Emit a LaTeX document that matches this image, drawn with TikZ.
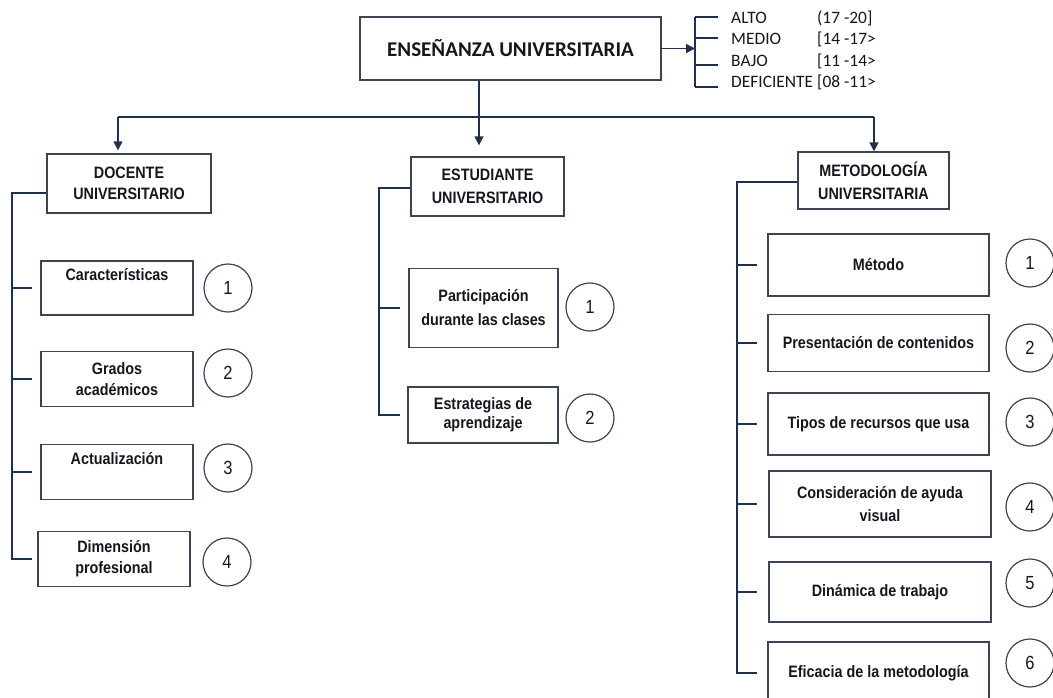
\documentclass[tikz,border=0pt]{standalone}
\usepackage{fontspec}
\setmainfont{Liberation Sans}[FakeStretch=0.87]
\newfontfamily\calib{Carlito}
\usetikzlibrary{arrows.meta}
\definecolor{lncol}{RGB}{30,48,78}
\definecolor{bxcol}{RGB}{58,68,84}
\definecolor{txcol}{RGB}{22,22,32}
\begin{document}
\begin{tikzpicture}[x=1pt,y=-1pt,
  box/.style={draw=bxcol, line width=1.4pt, fill=white, inner sep=0pt, align=center,
    text=txcol, font=\fontsize{16.5}{21}\selectfont\bfseries},
  numc/.style={circle, draw=bxcol, line width=1.2pt, minimum size=48, inner sep=0pt,
    text=txcol, font=\fontsize{19}{22}\selectfont},
  tree/.style={draw=lncol, line width=1.5pt},
  arr/.style={draw=lncol, line width=1.5pt, -{Triangle[length=9pt,width=9pt]}},
  leg/.style={anchor=west, inner sep=0pt, text=txcol, font=\calib\fontsize{17.4}{20}\selectfont}
]
\useasboundingbox (0,0) rectangle (1053,697);
\clip (0,0) rectangle (1053,697);

% main node
\node[box, minimum width=301, minimum height=63, font=\calib\fontsize{21}{24}\selectfont\bfseries]
  (main) at (510.5,48.5) {ENSEÑANZA UNIVERSITARIA};

% legend
\coordinate (bt) at (695,17);
\coordinate (bb) at (695,87);
\coordinate (b2) at (695,38);
\coordinate (b3) at (695,65);
\coordinate (e1) at (718,17);
\coordinate (e2) at (718,38);
\coordinate (e3) at (718,65);
\coordinate (e4) at (718,87);
\node[leg] (l1) at (731,18) {ALTO};
\node[leg] (l2) at (731,39) {MEDIO};
\node[leg] (l3) at (731,61) {BAJO};
\node[leg] (l4) at (731,82) {DEFICIENTE};
\node[leg] (r1) at (817,18) {(17 -20]};
\node[leg] (r2) at (817,39) {[14 -17>};
\node[leg] (r3) at (817,61) {[11 -14>};
\node[leg] (r4) at (817,82) {[08 -11>};
\draw[arr] (main.east) -- (main.east -| bt);
\draw[tree] (bt) -- (bb);
\draw[tree] (bt) -- (e1);
\draw[tree] (b2) -- (e2);
\draw[tree] (b3) -- (e3);
\draw[tree] (bb) -- (e4);

% level 1 nodes
\node[box, minimum width=164, minimum height=59] (doc) at (129,183.5) {DOCENTE\\UNIVERSITARIO};
\node[box, minimum width=153, minimum height=59, font=\fontsize{16.5}{23}\selectfont\bfseries] (est) at (487.5,186.5) {ESTUDIANTE\\UNIVERSITARIO};
\node[box, minimum width=151, minimum height=57, font=\fontsize{16.5}{23}\selectfont\bfseries] (met) at (873.5,180.5) {METODOLOGÍA\\UNIVERSITARIA};

% main connectors
\coordinate (hl) at (118,117);
\coordinate (hr) at (874,117);
\draw[arr, shorten >=11pt] ([xshift=-31.5]main.south) -- ([xshift=-8.5]est.north);
\draw[tree] (hl) -- (hr);
\draw[arr, shorten >=3pt] (hl) -- (hl |- doc.north);
\draw[arr] (hr) -- (hr |- met.north);

% DOCENTE branch
\node[box, minimum width=152, minimum height=54] (car) at (117,288) {Características\\\strut};
\node[box, minimum width=152, minimum height=55] (gra) at (117,379) {Grados\\académicos};
\node[box, minimum width=152, minimum height=55] (act) at (117,472) {Actualización\\\strut};
\node[box, minimum width=152, minimum height=55] (dim) at (114,559) {Dimensión\\profesional};
\node[numc] (dc1) at (228,288) {1};
\node[numc] (dc2) at (228,373) {2};
\node[numc] (dc3) at (228,468) {3};
\node[numc] (dc4) at (227,562) {4};
\coordinate (dl) at (12,0);
\draw[tree] ([yshift=-9.5]doc.west) -| (dl |- dim.west) -- ([xshift=-5]dim.west);
\draw[tree] (dl |- car.west) -- ([xshift=-8]car.west);
\draw[tree] (dl |- gra.west) -- ([xshift=-8]gra.west);
\draw[tree] (dl |- act.west) -- ([xshift=-8]act.west);

% ESTUDIANTE branch
\node[box, minimum width=149, minimum height=79, font=\fontsize{16.5}{24}\selectfont\bfseries] (par) at (483.5,308) {Participación\\durante las clases};
\node[box, minimum width=150, minimum height=56, font=\fontsize{16.5}{19}\selectfont\bfseries] (estr) at (483,415) {Estrategias de\\aprendizaje};
\node[numc] (ec1) at (590,307) {1};
\node[numc] (ec2) at (590,418) {2};
\coordinate (el) at (379,0);
\draw[tree] ([yshift=-1.5]est.west) -| (el |- estr.west) -- ([xshift=-7]estr.west);
\draw[tree] (el |- par.west) -- ([xshift=-8]par.west);

% METODOLOGIA branch
\node[box, minimum width=221, minimum height=62] (mto) at (878.5,265) {Método};
\node[box, minimum width=221, minimum height=57] (pre) at (878.5,343) {Presentación de contenidos};
\node[box, minimum width=221, minimum height=62] (tip) at (878.5,424) {Tipos de recursos que usa};
\node[box, minimum width=222, minimum height=66, font=\fontsize{16.5}{23}\selectfont\bfseries] (con) at (880,504) {Consideración de ayuda\\visual};
\node[box, minimum width=222, minimum height=60] (din) at (880,592) {Dinámica de trabajo};
\node[box, minimum width=221, minimum height=62] (efi) at (878.5,673) {Eficacia de la metodología};
\node[numc] (mc1) at (1030,263) {1};
\node[numc] (mc2) at (1030,348) {2};
\node[numc] (mc3) at (1030,422) {3};
\node[numc] (mc4) at (1030,507) {4};
\node[numc] (mc5) at (1030,583) {5};
\node[numc] (mc6) at (1030,663) {6};
\coordinate (ml) at (737,0);
\draw[tree] ([yshift=-1.5]met.west) -| (ml |- efi.west) -- ([xshift=-10]efi.west);
\draw[tree] (ml |- mto.west) -- ([xshift=-10]mto.west);
\draw[tree] (ml |- pre.west) -- ([xshift=-10]pre.west);
\draw[tree] (ml |- tip.west) -- ([xshift=-10]tip.west);
\draw[tree] (ml |- con.west) -- ([xshift=-11]con.west);
\draw[tree] (ml |- din.west) -- ([xshift=-11]din.west);
\end{tikzpicture}
\end{document}
